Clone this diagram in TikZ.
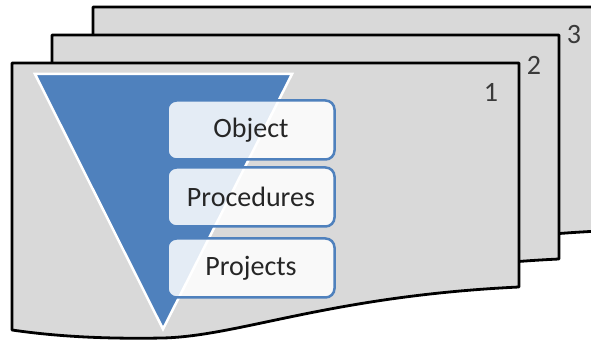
\documentclass[tikz,border=0pt]{standalone}
\usepackage{fontspec}
\setmainfont{Carlito}
\definecolor{sheetgray}{HTML}{D9D9D9}
\definecolor{funnelblue}{HTML}{4F81BD}
\definecolor{labelgray}{HTML}{262626}
\definecolor{numgray}{HTML}{3A3A3A}
\tikzset{
  sheet/.style={fill=sheetgray, draw=black, line width=2.8pt, line join=round},
  item/.style={rounded corners=9pt, minimum width=167pt, minimum height=59pt,
    draw=funnelblue, line width=2.5pt, fill=white, fill opacity=0.85,
    text opacity=1, text=labelgray, font=\fontsize{28}{32}\selectfont},
  pagenum/.style={text=numgray, font=\fontsize{28}{32}\selectfont, inner sep=0pt},
}
% outline of one page with a wavy bottom edge
\newcommand\pageoutline{(519,287) -- (519,63) -- (12,63) -- (12,330)
  .. controls (60,337) and (110,339) .. (163,338)
  .. controls (240,336) and (330,296) .. (519,287) -- cycle}
\begin{document}
\begin{tikzpicture}[x=1pt, y=-1pt]
  \useasboundingbox (0,0) rectangle (591,344);
  \clip (0,0) rectangle (591,344);
  \fill[white] (0,0) rectangle (591,344);

  % stacked pages, back to front
  \begin{scope}[shift={(81,-56)}]
    \filldraw[sheet] \pageoutline;
  \end{scope}
  \begin{scope}[shift={(40,-28)}]
    \filldraw[sheet] \pageoutline;
  \end{scope}
  \filldraw[sheet] \pageoutline;

  % page numbers
  \node[pagenum] (n3) at (574,35) {3};
  \node[pagenum] (n2) at (534,65) {2};
  \node[pagenum] (n1) at (491,92) {1};

  % funnel
  \filldraw[fill=funnelblue, draw=white, line width=2.5pt, line join=miter]
    (35,74) -- (292,74) -- (163,329) -- cycle;

  % stages
  \node[item] (obj)  at (251,130) {Object};
  \node[item] (proc) at (251,197) {Procedures};
  \node[item] (proj) at (251,268) {Projects};
\end{tikzpicture}
\end{document}
